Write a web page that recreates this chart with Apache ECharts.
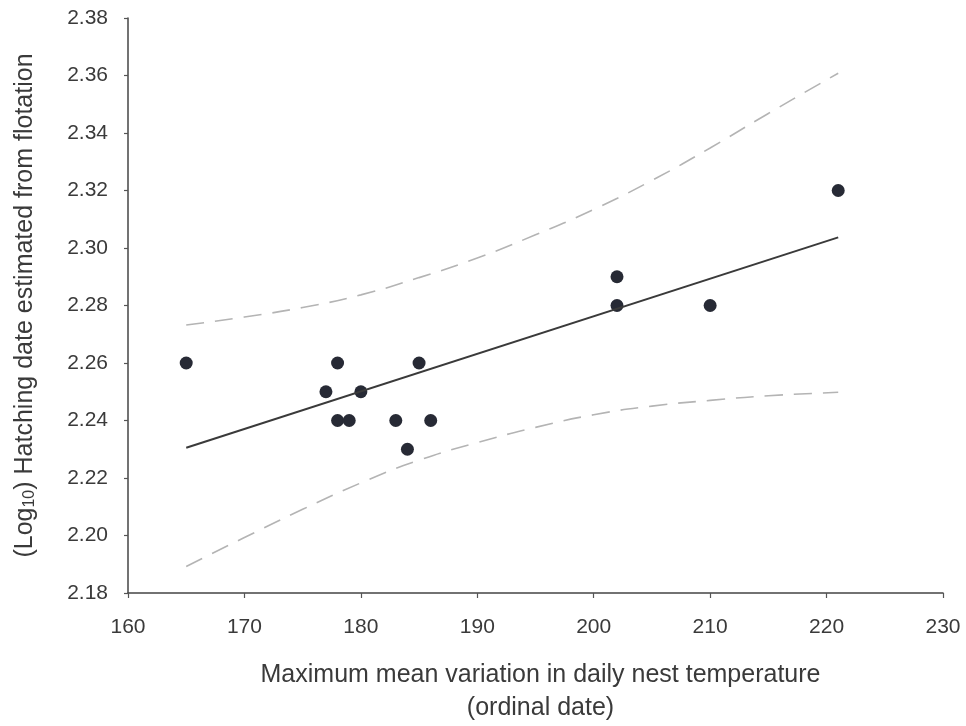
<!DOCTYPE html>
<html>
<head>
<meta charset="utf-8">
<script src="https://cdn.jsdelivr.net/npm/echarts@6/dist/echarts.min.js"></script>
<style>html,body{margin:0;padding:0;background:#fff;}#c{width:966px;height:726px;}</style>
</head>
<body>
<div id="c"></div>
<script>
// Observed points
const pointX = [165, 177, 178, 178, 179, 180, 183, 184, 185, 186, 202, 202, 210, 221];
const pointY = [2.26, 2.25, 2.26, 2.24, 2.24, 2.25, 2.24, 2.23, 2.26, 2.24, 2.29, 2.28, 2.28, 2.32];
// Fitted line
const fitX = [165, 221];
const fitY = [2.2305, 2.3037];
// Confidence band curves
const bandX = [165, 170, 175, 180, 185, 190, 195, 200, 205, 210, 215, 221];
const upperY = [2.2732, 2.2760, 2.2793, 2.2837, 2.2897, 2.2965, 2.3046, 2.3134, 2.3235, 2.3348, 2.3468, 2.3608];
const lowerY = [2.1892, 2.1993, 2.2091, 2.2183, 2.2262, 2.2323, 2.2376, 2.2420, 2.2450, 2.2470, 2.2486, 2.2498];
// Axis ticks
const xTicks = [160, 230, 10];
const yTicks = [2.18, 2.38, 0.02];
const xTitle = 'Maximum mean variation in daily nest temperature\n(ordinal date)';
const yTitle = '(Log{sub|10}) Hatching date estimated from flotation';

const zip = (a, b) => a.map((v, i) => [v, b[i]]);
const chart = echarts.init(document.getElementById('c'), null, {renderer: 'canvas'});
const font = 'Liberation Sans, Arial, sans-serif';
chart.setOption({
  backgroundColor: '#ffffff',
  animation: false,
  grid: {left: 128, right: 23, top: 18, bottom: 133, containLabel: false, outerBoundsMode: 'none'},
  xAxis: {
    type: 'value', min: xTicks[0], max: xTicks[1], interval: xTicks[2],
    name: xTitle, nameLocation: 'middle', nameGap: 66,
    nameTextStyle: {fontFamily: font, fontSize: 25, color: '#3a3a3a', lineHeight: 33, padding: [0, 0, 0, 10]},
    axisLine: {lineStyle: {color: '#444', width: 1.5}},
    axisTick: {show: true, inside: false, length: 5, lineStyle: {color: '#555', width: 1.2}},
    axisLabel: {fontFamily: font, fontSize: 21, color: '#3a3a3a', margin: 24},
    splitLine: {show: false}
  },
  yAxis: {
    type: 'value', min: yTicks[0], max: yTicks[1], interval: yTicks[2],
    name: yTitle, nameLocation: 'middle', nameGap: 90, nameRotate: 90,
    nameTextStyle: {fontFamily: font, fontSize: 25, color: '#3a3a3a',
      rich: {sub: {fontFamily: font, fontSize: 16, color: '#3a3a3a', verticalAlign: 'bottom', padding: [10, 0, 0, 0]}}},
    axisLine: {show: true, lineStyle: {color: '#444', width: 1.5}},
    axisTick: {show: true, inside: false, length: 4, lineStyle: {color: '#555', width: 1.2}},
    axisLabel: {fontFamily: font, fontSize: 21, color: '#3a3a3a', margin: 20, formatter: v => v.toFixed(2)},
    splitLine: {show: false}
  },
  series: [
    {type: 'line', data: zip(bandX, upperY), smooth: true, symbol: 'none',
      lineStyle: {color: '#b4b4b4', width: 1.6, type: [18, 11]}},
    {type: 'line', data: zip(bandX, lowerY), smooth: true, symbol: 'none',
      lineStyle: {color: '#b4b4b4', width: 1.6, type: [18, 11]}},
    {type: 'line', data: zip(fitX, fitY), symbol: 'none',
      lineStyle: {color: '#3a3a3a', width: 2}},
    {type: 'scatter', data: zip(pointX, pointY), symbol: 'circle', symbolSize: 13,
      itemStyle: {color: '#272a35', opacity: 1}}
  ]
});
</script>
</body>
</html>
